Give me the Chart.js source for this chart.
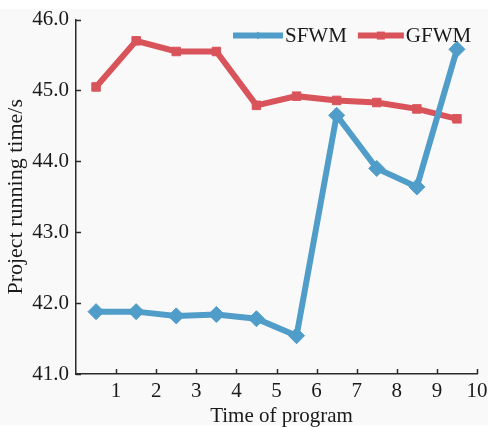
<!DOCTYPE html>
<html>
<head>
<meta charset="utf-8">
<script src="https://cdn.jsdelivr.net/npm/chart.js@4/dist/chart.umd.min.js"></script>
<style>
  html, body { margin: 0; padding: 0; background: #ffffff; }
  #wrap { width: 488px; height: 427px; }
</style>
</head>
<body>
<div id="wrap"><canvas id="c" width="488" height="427"></canvas></div>
<script>
// Program runs and measured running time (s) for the two schemes
const programTimes = [0.5, 1.5, 2.5, 3.5, 4.5, 5.5, 6.5, 7.5, 8.5, 9.5];
const sfwmTimes = [41.88, 41.88, 41.82, 41.84, 41.78, 41.54, 44.65, 43.90, 43.64, 45.58];
const gfwmTimes = [45.05, 45.70, 45.55, 45.55, 44.79, 44.92, 44.86, 44.83, 44.74, 44.60];
const seriesNames = ['SFWM', 'GFWM'];
const xTickValues = [1, 2, 3, 4, 5, 6, 7, 8, 9, 10];
const yTickValues = [41, 42, 43, 44, 45, 46];
const xTitle = 'Time of program';
const yTitle = 'Project running time/s';

const BLUE = '#4f9dc8';
const RED = '#d9545a';
const AXIS = '#2b2b2b';
const FONT = '"Liberation Serif", "Times New Roman", serif';

const toPoints = (xs, ys) => xs.map((x, i) => ({ x: x, y: ys[i] }));

// paper background
const backdrop = {
  id: 'backdrop',
  beforeDraw(chart) {
    const ctx = chart.ctx;
    ctx.save();
    ctx.fillStyle = '#f9f9f9';
    ctx.fillRect(0, 9, chart.width, chart.height - 11);
    ctx.restore();
  }
};

// inward tick marks and axis titles
const axisDecor = {
  id: 'axisDecor',
  afterDraw(chart) {
    const ctx = chart.ctx;
    const xs = chart.scales.x, ys = chart.scales.y;
    const a = chart.chartArea;
    ctx.save();
    ctx.strokeStyle = AXIS;
    ctx.lineWidth = 1.5;
    ctx.beginPath();
    xTickValues.forEach(v => {
      const px = Math.round(xs.getPixelForValue(v)) + 0.5;
      ctx.moveTo(px, a.bottom);
      ctx.lineTo(px, a.bottom - 5);
    });
    yTickValues.forEach(v => {
      const py = Math.round(ys.getPixelForValue(v)) + 0.5;
      ctx.moveTo(a.left, py);
      ctx.lineTo(a.left + 5, py);
    });
    ctx.stroke();

    ctx.fillStyle = '#1a1a1a';
    ctx.textAlign = 'center';
    ctx.textBaseline = 'alphabetic';
    ctx.font = '21px ' + FONT;
    ctx.fillText(xTitle, (a.left + a.right) / 2 + 5, chart.height - 5);

    ctx.font = '22px ' + FONT;
    ctx.translate(22, (a.top + a.bottom) / 2);
    ctx.rotate(-Math.PI / 2);
    ctx.fillText(yTitle, 0, 0);
    ctx.restore();
  }
};

// legend: thick line sample with marker, followed by the series name
const lineLegend = {
  id: 'lineLegend',
  afterDatasetsDraw(chart) {
    const ctx = chart.ctx;
    const a = chart.chartArea;
    const y = a.top + 16;
    ctx.save();
    ctx.font = '21px ' + FONT;
    ctx.textBaseline = 'middle';
    ctx.textAlign = 'left';
    let x = a.right - 244;
    chart.data.datasets.forEach((ds, i) => {
      const len = i === 0 ? 50 : 46;
      ctx.strokeStyle = ds.borderColor;
      ctx.lineWidth = 6;
      ctx.lineCap = 'butt';
      ctx.beginPath();
      ctx.moveTo(x, y);
      ctx.lineTo(x + len, y);
      ctx.stroke();
      ctx.fillStyle = ds.borderColor;
      if (i === 0) {
        ctx.beginPath();
        ctx.moveTo(x + len / 2 - 3, y);
        ctx.lineTo(x + len / 2, y - 4);
        ctx.lineTo(x + len / 2 + 3, y);
        ctx.lineTo(x + len / 2, y + 4);
        ctx.closePath();
        ctx.fill();
      } else {
        ctx.fillRect(x + len / 2 - 4, y - 4, 8, 8);
      }
      ctx.fillStyle = '#1a1a1a';
      const tx = x + len + 2;
      ctx.fillText(ds.label, tx, y + 1);
      x = tx + ctx.measureText(ds.label).width + 11;
    });
    ctx.restore();
  }
};

new Chart(document.getElementById('c'), {
  type: 'line',
  data: {
    datasets: [
      {
        label: seriesNames[0],
        data: toPoints(programTimes, sfwmTimes),
        borderColor: BLUE,
        backgroundColor: BLUE,
        borderWidth: 6,
        borderJoinStyle: 'miter',
        pointStyle: 'rectRot',
        pointRadius: 8,
        pointBorderWidth: 1,
        tension: 0
      },
      {
        label: seriesNames[1],
        data: toPoints(programTimes, gfwmTimes),
        borderColor: RED,
        backgroundColor: RED,
        borderWidth: 6,
        borderJoinStyle: 'miter',
        pointStyle: 'rect',
        pointRadius: 6,
        pointBorderWidth: 1,
        tension: 0
      }
    ]
  },
  options: {
    responsive: false,
    animation: false,
    devicePixelRatio: 1,
    layout: { padding: { left: 0, right: 11, top: 16, bottom: 0 } },
    plugins: {
      legend: { display: false },
      tooltip: { enabled: false }
    },
    scales: {
      x: {
        type: 'linear',
        min: 0,
        max: 10,
        afterFit(s) { s.height = 53; s.paddingLeft = 0; s.paddingRight = 0; },
        afterBuildTicks(s) { s.ticks = xTickValues.map(v => ({ value: v })); },
        grid: { display: false, drawTicks: false },
        border: { display: true, color: AXIS, width: 1.5 },
        ticks: {
          padding: 5,
          color: '#1a1a1a',
          font: { family: FONT, size: 21 },
          callback: v => String(v)
        }
      },
      y: {
        type: 'linear',
        min: 41,
        max: 46,
        afterFit(s) { s.width = 76; },
        afterBuildTicks(s) { s.ticks = yTickValues.map(v => ({ value: v })); },
        grid: { display: false, drawTicks: false },
        border: { display: true, color: AXIS, width: 1.5 },
        ticks: {
          padding: 7,
          color: '#1a1a1a',
          font: { family: FONT, size: 21 },
          callback: v => Number(v).toFixed(1)
        }
      }
    }
  },
  plugins: [backdrop, axisDecor, lineLegend]
});
</script>
</body>
</html>
